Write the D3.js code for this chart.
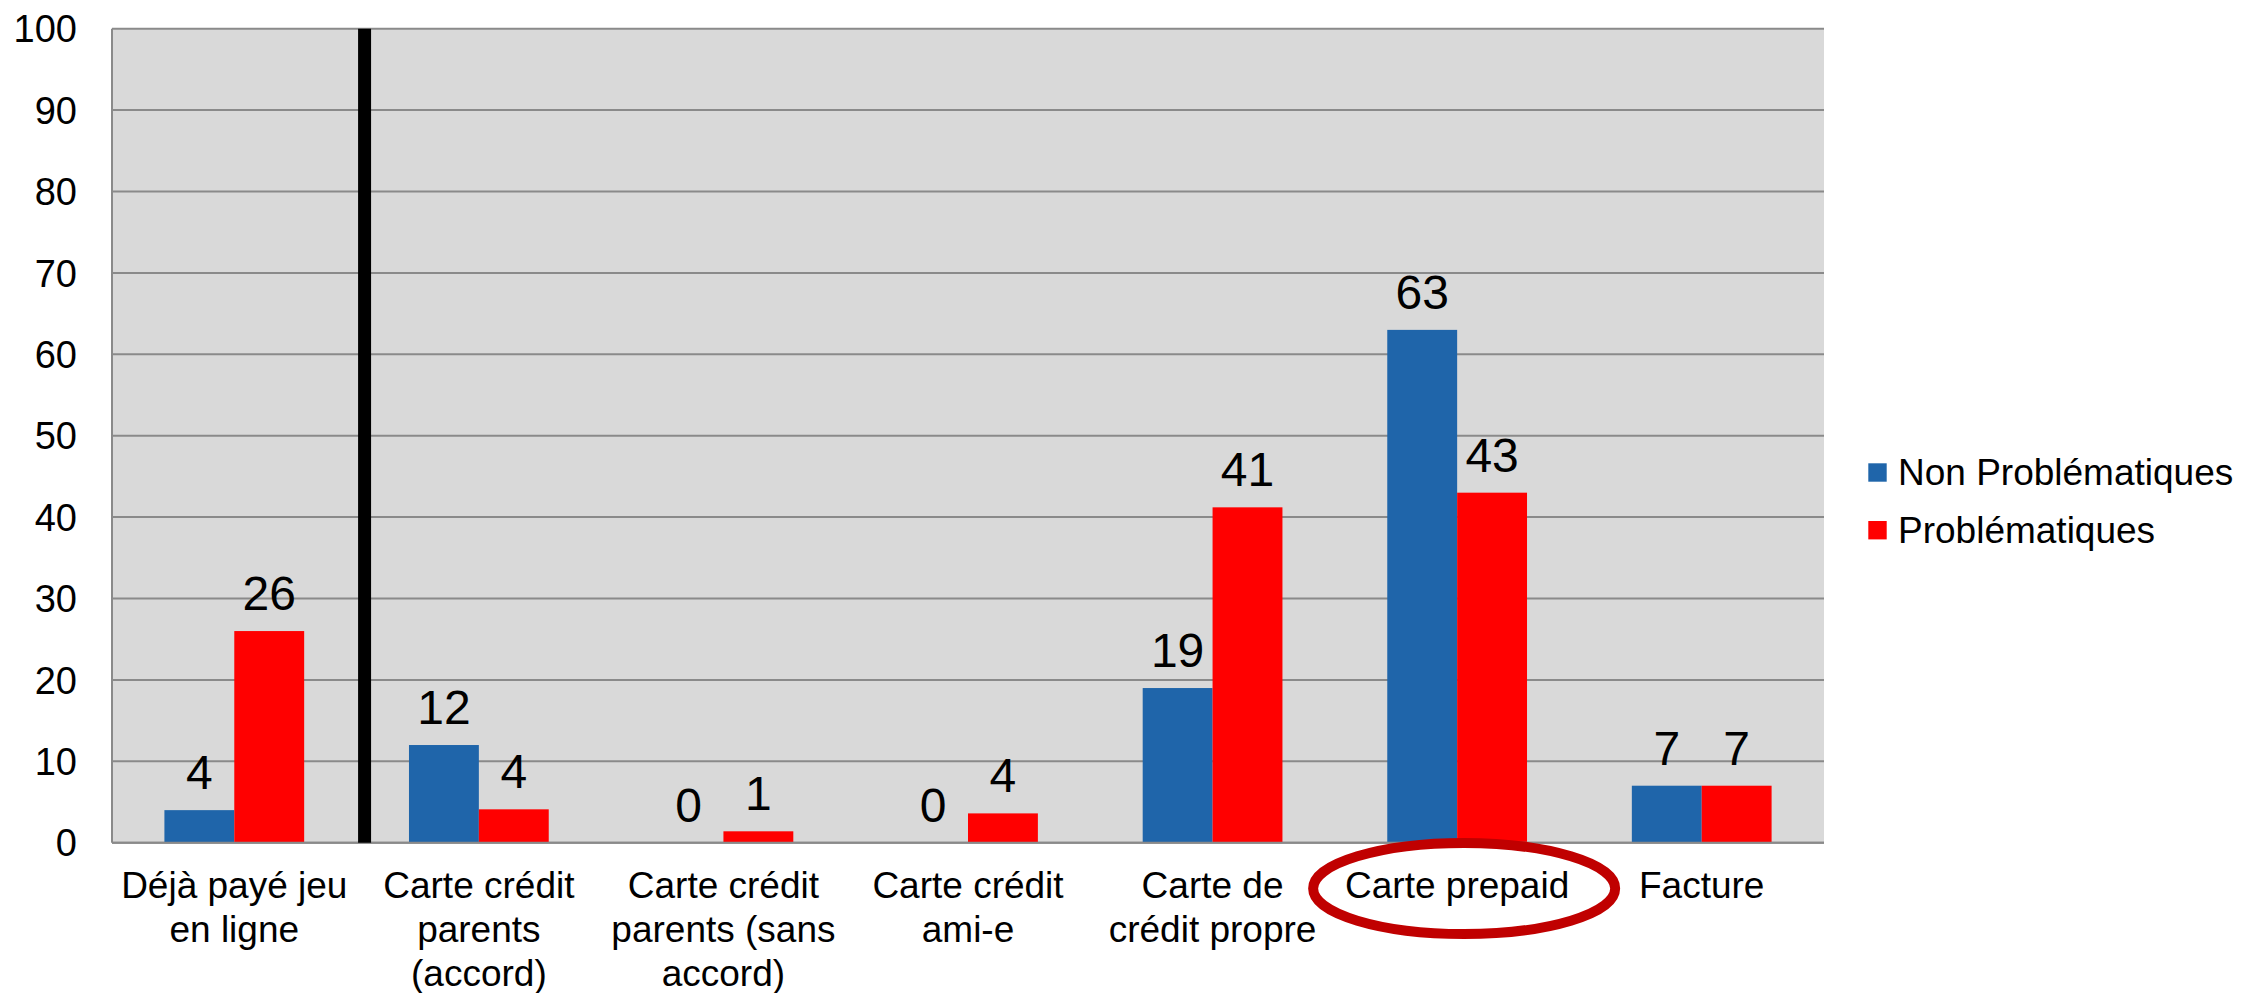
<!DOCTYPE html>
<html>
<head>
<meta charset="utf-8">
<script src="https://cdn.jsdelivr.net/npm/d3@7"></script>
<style>
  html, body { margin: 0; padding: 0; background: #ffffff; }
  svg { display: block; }
  text { font-family: "Liberation Sans", Arial, sans-serif; fill: #000; }
</style>
</head>
<body>
<svg id="chart" width="2242" height="993"></svg>
<script>
// ---- data ----
const categories = ["Déjà payé jeu en ligne", "Carte crédit parents (accord)", "Carte crédit parents (sans accord)", "Carte crédit ami-e", "Carte de crédit propre", "Carte prepaid", "Facture"];
const categoryLines = [
  ["Déjà payé jeu", "en ligne"],
  ["Carte crédit", "parents", "(accord)"],
  ["Carte crédit", "parents (sans", "accord)"],
  ["Carte crédit", "ami-e"],
  ["Carte de", "crédit propre"],
  ["Carte prepaid"],
  ["Facture"]
];
const seriesNames = ["Non Problématiques", "Problématiques"];
const nonProblematiques = [4, 12, 0, 0, 19, 63, 7];
const problematiques = [26, 4.1, 1.4, 3.6, 41.2, 43, 7];
const labelsNon = [4, 12, 0, 0, 19, 63, 7];
const labelsProb = [26, 4, 1, 4, 41, 43, 7];
const yTicks = [0, 10, 20, 30, 40, 50, 60, 70, 80, 90, 100];
const highlighted = "Carte prepaid";

const colors = ["#1F65AA", "#FF0000"];

// ---- layout ----
const svg = d3.select("#chart");
const plot = { left: 112, right: 1824, top: 28.7, bottom: 842.7 };

const x = d3.scaleBand().domain(categories).range([plot.left, plot.right]).paddingInner(0).paddingOuter(0);
const barW = x.bandwidth() / 3.5; // gap width 150%
const xSub = d3.scaleBand().domain(seriesNames).range([0, barW * 2]);
const y = d3.scaleLinear().domain([0, 100]).range([plot.bottom, plot.top]);

// background
svg.append("rect")
  .attr("x", plot.left).attr("y", plot.top)
  .attr("width", plot.right - plot.left).attr("height", plot.bottom - plot.top)
  .attr("fill", "#D9D9D9");

// gridlines
svg.append("g").selectAll("line").data(yTicks).join("line")
  .attr("x1", plot.left).attr("x2", plot.right)
  .attr("y1", d => y(d)).attr("y2", d => y(d))
  .attr("stroke", "#8A8A8A").attr("stroke-width", 2);

// y axis line
svg.append("line")
  .attr("x1", plot.left).attr("x2", plot.left)
  .attr("y1", plot.top).attr("y2", plot.bottom)
  .attr("stroke", "#8A8A8A").attr("stroke-width", 2);

// y tick labels
svg.append("g").selectAll("text").data(yTicks).join("text")
  .attr("x", 77).attr("y", d => y(d)).attr("dy", "0.36em")
  .attr("text-anchor", "end")
  .attr("font-size", 38)
  .text(d => d);

// bars
const series = [
  { name: seriesNames[0], values: nonProblematiques, labels: labelsNon, color: colors[0] },
  { name: seriesNames[1], values: problematiques, labels: labelsProb, color: colors[1] }
];
const groupOffset = (x.bandwidth() - barW * 2) / 2;

series.forEach(s => {
  const g = svg.append("g");
  g.selectAll("rect").data(categories).join("rect")
    .attr("x", (c) => x(c) + groupOffset + xSub(s.name))
    .attr("width", barW)
    .attr("y", (c, i) => y(s.values[i]))
    .attr("height", (c, i) => y(0) - y(s.values[i]))
    .attr("fill", s.color);
  g.selectAll("text").data(categories).join("text")
    .attr("x", (c) => x(c) + groupOffset + xSub(s.name) + barW / 2)
    .attr("y", (c, i) => y(s.values[i]) - 21)
    .attr("text-anchor", "middle")
    .attr("font-size", 48)
    .text((c, i) => s.labels[i]);
});

// bottom axis line
svg.append("line")
  .attr("x1", plot.left).attr("x2", plot.right)
  .attr("y1", plot.bottom).attr("y2", plot.bottom)
  .attr("stroke", "#8A8A8A").attr("stroke-width", 2);

// black separator line after the first category
svg.append("line")
  .attr("x1", x(categories[1]) + 8).attr("x2", x(categories[1]) + 8)
  .attr("y1", plot.top).attr("y2", plot.bottom)
  .attr("stroke", "#000").attr("stroke-width", 13);

// category labels
categories.forEach((c, i) => {
  const t = svg.append("text")
    .attr("x", x(c) + x.bandwidth() / 2)
    .attr("y", 897.5)
    .attr("text-anchor", "middle")
    .attr("font-size", 37);
  categoryLines[i].forEach((line, j) => {
    t.append("tspan")
      .attr("x", x(c) + x.bandwidth() / 2)
      .attr("dy", j === 0 ? 0 : 44.3)
      .text(line);
  });
});

// highlight ellipse
svg.append("ellipse")
  .attr("cx", x(highlighted) + x.bandwidth() / 2 + 7)
  .attr("cy", 888.5)
  .attr("rx", 151).attr("ry", 45.5)
  .attr("fill", "none")
  .attr("stroke", "#C00000")
  .attr("stroke-width", 10);

// legend
const legend = svg.append("g");
seriesNames.forEach((n, i) => {
  const yy = 472.5 + i * 57.7;
  legend.append("rect")
    .attr("x", 1868.3).attr("y", yy - 9.2)
    .attr("width", 18.4).attr("height", 18.4)
    .attr("fill", colors[i]);
  legend.append("text")
    .attr("x", 1898).attr("y", yy + 12.5)
    .attr("font-size", 37)
    .text(n);
});
</script>
</body>
</html>
